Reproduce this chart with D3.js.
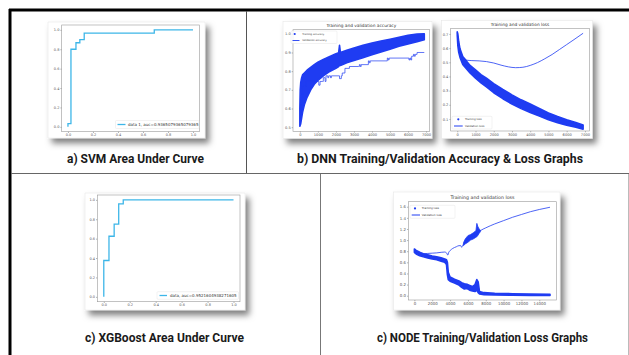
<!DOCTYPE html>
<html>
<head>
<meta charset="utf-8">
<script src="https://cdn.jsdelivr.net/npm/d3@7"></script>
<style>
  html, body { margin: 0; padding: 0; background: #fff; }
  svg { display: block; }
  .tick text { font-family: "DejaVu Sans", sans-serif; fill: #555; }
  .caption { font-family: "Liberation Sans Narrow", Roboto, sans-serif; font-weight: 700; fill: #1a1a1a; }
  .mpl { font-family: "DejaVu Sans", sans-serif; fill: #333; }
</style>
</head>
<body>
<svg id="chart" width="629" height="355"></svg>
<script>
// ---- ROC curves ----
const rocTicks = [0, 0.2, 0.4, 0.6, 0.8, 1.0];

const svmFpr = [0, 0, 0.024, 0.024, 0.064, 0.064, 0.095, 0.095, 0.13, 0.13, 0.69, 0.69, 1.0];
const svmTpr = [0, 0.033, 0.033, 0.8, 0.8, 0.867, 0.867, 0.9, 0.9, 0.967, 0.967, 1.0, 1.0];
const svmLabel = "data 1, auc=0.9365079365079365";

const xgbFpr = [0, 0, 0.04, 0.04, 0.08, 0.08, 0.115, 0.115, 0.15, 0.15, 1.0];
const xgbTpr = [0, 0.375, 0.375, 0.625, 0.625, 0.75, 0.75, 0.958, 0.958, 1.0, 1.0];
const xgbLabel = "data, auc=0.9521604938271605";

// ---- DNN accuracy ----
const dnnXTicks = [0, 1000, 2000, 3000, 4000, 5000, 6000, 7000];
const dnnAccYTicks = [0.5, 0.6, 0.7, 0.8, 0.9, 1.0];
const dnnAccEpoch = [0, 20, 50, 100, 150, 250, 400, 600, 800, 1000, 1300, 1600, 2000, 2150, 2200, 2250, 2600, 3000, 3500, 4000, 4500, 5000, 5500, 6000, 6500, 6900];
const dnnAccLow   = [0.505, 0.51, 0.52, 0.55, 0.58, 0.62, 0.66, 0.7, 0.73, 0.75, 0.775, 0.795, 0.815, 0.825, 0.83, 0.83, 0.845, 0.857, 0.872, 0.888, 0.903, 0.918, 0.933, 0.946, 0.958, 0.968];
const dnnAccHigh  = [0.6, 0.7, 0.74, 0.765, 0.78, 0.79, 0.805, 0.82, 0.835, 0.848, 0.863, 0.876, 0.893, 0.898, 0.938, 0.9, 0.912, 0.924, 0.938, 0.95, 0.961, 0.971, 0.982, 0.992, 0.999, 1.0];
const dnnValAccEpoch = [0, 50, 100, 200, 350, 1050, 1120, 1250, 1300, 1400, 1450, 1550, 1600, 1700, 1750, 2200, 2300, 2350, 2500, 2750, 3250, 3300, 3350, 3400, 3800, 3850, 3900, 4850, 4900, 4950, 6050, 6100, 6150, 6200, 6300, 6350, 6400, 6500, 6900];
const dnnValAcc      = [0.55, 0.62, 0.68, 0.72, 0.745, 0.725, 0.745, 0.745, 0.765, 0.745, 0.775, 0.765, 0.775, 0.765, 0.775, 0.76, 0.775, 0.79, 0.815, 0.825, 0.825, 0.835, 0.825, 0.835, 0.855, 0.845, 0.855, 0.87, 0.86, 0.87, 0.86, 0.87, 0.86, 0.88, 0.89, 0.88, 0.89, 0.9, 0.9];

// ---- DNN loss ----
const dnnLossYTicks = [0.1, 0.2, 0.3, 0.4, 0.5, 0.6, 0.7];
const dnnLossEpoch = [0, 30, 80, 150, 300, 500, 700, 1000, 1300, 1600, 2000, 2500, 3000, 3500, 4000, 4500, 5000, 5500, 6000, 6500, 6900];
const dnnLossLow   = [0.69, 0.62, 0.57, 0.535, 0.485, 0.455, 0.425, 0.388, 0.355, 0.327, 0.285, 0.243, 0.205, 0.173, 0.146, 0.12, 0.095, 0.074, 0.056, 0.042, 0.028];
const dnnLossHigh  = [0.715, 0.7, 0.645, 0.595, 0.54, 0.51, 0.478, 0.446, 0.413, 0.388, 0.35, 0.308, 0.27, 0.235, 0.205, 0.174, 0.143, 0.117, 0.094, 0.075, 0.058];
const dnnValLossEpoch = [0, 50, 100, 200, 330, 500, 800, 1200, 1600, 2000, 2400, 2800, 3200, 3600, 4000, 4400, 4800, 5200, 5600, 6000, 6400, 6900];
const dnnValLoss      = [0.71, 0.66, 0.62, 0.565, 0.53, 0.515, 0.512, 0.51, 0.505, 0.495, 0.48, 0.468, 0.462, 0.465, 0.478, 0.498, 0.525, 0.555, 0.59, 0.625, 0.66, 0.705];

// ---- NODE loss ----
const nodeXTicks = [0, 2000, 4000, 6000, 8000, 10000, 12000, 14000];
const nodeYTicks = [0, 0.2, 0.4, 0.6, 0.8, 1.0, 1.2, 1.4, 1.6];
const nodeEpoch = [0, 200, 600, 1000, 1500, 2000, 2500, 3000, 3400, 3600, 3700, 3800, 4000, 4500, 5000, 5300, 5600, 5900, 6200, 6500, 6800, 7000, 7150, 7300, 7800, 9000, 11000, 13000, 15200];
const nodeLow   = [0.78, 0.75, 0.72, 0.7, 0.68, 0.66, 0.645, 0.62, 0.6, 0.56, 0.38, 0.29, 0.26, 0.23, 0.19, 0.15, 0.12, 0.13, 0.1, 0.085, 0.075, 0.1, 0.055, 0.03, 0.02, 0.012, 0.008, 0.005, 0.005];
const nodeHigh  = [0.84, 0.815, 0.78, 0.755, 0.735, 0.715, 0.7, 0.68, 0.66, 0.645, 0.6, 0.42, 0.335, 0.295, 0.265, 0.235, 0.215, 0.205, 0.185, 0.165, 0.2, 0.29, 0.25, 0.075, 0.055, 0.042, 0.036, 0.031, 0.026];
const nodeValEpoch = [0, 200, 500, 1000, 1500, 2000, 2500, 3000, 3400, 3600, 3750, 3850, 4000, 4300, 4700, 5000, 5200, 5300, 5400, 5600, 6000, 6500, 7000, 7400, 8000, 9000, 10000, 11000, 12000, 13000, 14000, 15200];
const nodeVal      = [0.82, 0.78, 0.75, 0.755, 0.76, 0.765, 0.77, 0.78, 0.785, 0.77, 0.73, 0.78, 0.81, 0.85, 0.88, 0.9, 0.9, 0.87, 0.9, 0.95, 1.02, 1.07, 1.12, 1.17, 1.22, 1.29, 1.35, 1.41, 1.46, 1.51, 1.55, 1.59];
const nodeValNoiseEpoch = [5500, 5700, 6000, 6300, 6600, 6900, 7000, 7100, 7250, 7400];
const nodeValNoiseLow   = [0.9, 0.93, 0.96, 1.0, 1.02, 1.05, 1.06, 1.08, 1.12, 1.15];
const nodeValNoiseHigh  = [0.95, 1.02, 1.08, 1.1, 1.13, 1.17, 1.3, 1.25, 1.2, 1.18];

const captions = [
  "a) SVM Area Under Curve",
  "b) DNN Training/Validation Accuracy & Loss Graphs",
  "c) XGBoost Area Under Curve",
  "c) NODE Training/Validation Loss Graphs"
];

const BLUE = "#1f3cf2";
const ROC_BLUE = "#3db6e8";

const svg = d3.select("#chart");
const defs = svg.append("defs");

// Card shadow
const shadow = defs.append("filter").attr("id", "card-shadow")
  .attr("x", "-20%").attr("y", "-20%").attr("width", "150%").attr("height", "160%");
shadow.append("feDropShadow").attr("dx", 4).attr("dy", 5)
  .attr("stdDeviation", 3).attr("flood-color", "#000").attr("flood-opacity", 0.5);

// Frame lines
svg.append("line").attr("x1", 9).attr("x2", 629).attr("y1", 10).attr("y2", 10)
  .attr("stroke", "#000").attr("stroke-width", 3);
svg.append("line").attr("x1", 10).attr("x2", 10).attr("y1", 9).attr("y2", 355)
  .attr("stroke", "#000").attr("stroke-width", 3);
svg.append("line").attr("x1", 11).attr("x2", 629).attr("y1", 173.5).attr("y2", 173.5)
  .attr("stroke", "#666").attr("stroke-width", 1);
svg.append("line").attr("x1", 246.5).attr("x2", 246.5).attr("y1", 11).attr("y2", 173)
  .attr("stroke", "#555").attr("stroke-width", 1);
svg.append("line").attr("x1", 320.5).attr("x2", 320.5).attr("y1", 174).attr("y2", 355)
  .attr("stroke", "#777").attr("stroke-width", 1);
svg.append("line").attr("x1", 628.5).attr("x2", 628.5).attr("y1", 174).attr("y2", 355)
  .attr("stroke", "#bbb").attr("stroke-width", 1);

let clipId = 0;

function panel(o) {
  const g = svg.append("g");
  const [cx0, cy0, cx1, cy1] = o.card;
  const [px0, py0, px1, py1] = o.plot;

  g.append("rect")
    .attr("x", cx0).attr("y", cy0).attr("width", cx1 - cx0).attr("height", cy1 - cy0)
    .attr("fill", "#fff").attr("stroke", "#e4e4e4").attr("stroke-width", 0.5)
    .attr("filter", "url(#card-shadow)");

  const x = d3.scaleLinear().domain(o.xDomain).range([px0, px1]);
  const y = d3.scaleLinear().domain(o.yDomain).range([py1, py0]);

  const id = "clip" + (clipId++);
  defs.append("clipPath").attr("id", id).append("rect")
    .attr("x", px0).attr("y", py0).attr("width", px1 - px0).attr("height", py1 - py0);
  const plot = g.append("g").attr("clip-path", `url(#${id})`);

  const xAxis = g.append("g").attr("transform", `translate(0,${py1})`)
    .call(d3.axisBottom(x).tickValues(o.xTicks).tickFormat(o.xFormat).tickSize(1.3).tickPadding(1));
  const yAxis = g.append("g").attr("transform", `translate(${px0},0)`)
    .call(d3.axisLeft(y).tickValues(o.yTicks).tickFormat(o.yFormat).tickSize(1.3).tickPadding(1));
  [xAxis, yAxis].forEach(a => {
    a.select(".domain").remove();
    a.selectAll(".tick line").attr("stroke", "#666").attr("stroke-width", 0.5);
    a.selectAll(".tick text").style("font-size", o.tickFont + "px");
  });

  if (o.title) {
    g.append("text").attr("class", "mpl")
      .attr("x", (px0 + px1) / 2).attr("y", o.titleY)
      .attr("text-anchor", "middle").style("font-size", o.titleFont + "px")
      .text(o.title);
  }

  return { g, plot, x, y, frame: () => g.append("rect")
    .attr("x", px0).attr("y", py0).attr("width", px1 - px0).attr("height", py1 - py0)
    .attr("fill", "none").attr("stroke", "#999").attr("stroke-width", 0.6) };
}

function legendBox(g, box) {
  g.append("rect").attr("x", box[0]).attr("y", box[1])
    .attr("width", box[2] - box[0]).attr("height", box[3] - box[1]).attr("rx", 1)
    .attr("fill", "#fff").attr("fill-opacity", 0.8)
    .attr("stroke", "#ddd").attr("stroke-width", 0.4);
}

function legendText(g, xx, yy, size, txt) {
  g.append("text").attr("class", "mpl").attr("x", xx).attr("y", yy)
    .attr("dominant-baseline", "middle").style("font-size", size + "px").text(txt);
}

// ---- ROC panels ----
function rocPanel(card, plot, fpr, tpr, label, leg) {
  const p = panel({
    card, plot, xDomain: [-0.05, 1.05], yDomain: [-0.05, 1.05],
    xTicks: rocTicks, yTicks: rocTicks, xFormat: d3.format(".1f"), yFormat: d3.format(".1f"),
    tickFont: 3.5
  });
  const pts = fpr.map((f, i) => [f, tpr[i]]);
  p.plot.append("path").datum(pts)
    .attr("d", d3.line().x(d => p.x(d[0])).y(d => p.y(d[1])))
    .attr("fill", "none").attr("stroke", ROC_BLUE).attr("stroke-width", 1.3);
  p.frame();
  legendBox(p.g, leg.box);
  p.g.append("line").attr("x1", leg.line[0]).attr("x2", leg.line[1])
    .attr("y1", leg.y).attr("y2", leg.y).attr("stroke", ROC_BLUE).attr("stroke-width", 1.3);
  legendText(p.g, leg.textX, leg.y, 4, label);
}

rocPanel([48, 22, 205, 138], [61.7, 25, 199.3, 131.7], svmFpr, svmTpr, svmLabel,
  { box: [115.5, 120.5, 199, 128.5], line: [117.5, 125.5], y: 124.5, textX: 128 });
rocPanel([85, 193, 245, 310], [97.3, 195, 240, 301.7], xgbFpr, xgbTpr, xgbLabel,
  { box: [157, 291.7, 238.5, 299.3], line: [159.5, 167], y: 295.5, textX: 170 });

// ---- training curves ----
function trainPanel(o) {
  const p = panel(o);
  const band = o.bandE.map((e, i) => ({ e, lo: o.bandLo[i], hi: o.bandHi[i] }));
  const area = d3.area().x(d => p.x(d.e)).y0(d => p.y(d.lo)).y1(d => p.y(d.hi));
  p.plot.append("path").datum(band).attr("d", area)
    .attr("fill", BLUE).attr("stroke", BLUE).attr("stroke-width", 1.6).attr("stroke-linejoin", "round");
  if (o.noiseE) {
    const noise = o.noiseE.map((e, i) => ({ e, lo: o.noiseLo[i], hi: o.noiseHi[i] }));
    p.plot.append("path").datum(noise).attr("d", area)
      .attr("fill", BLUE).attr("stroke", BLUE).attr("stroke-width", 0.8).attr("stroke-linejoin", "round");
  }
  const val = o.valE.map((e, i) => [e, o.val[i]]);
  p.plot.append("path").datum(val)
    .attr("d", d3.line().x(d => p.x(d[0])).y(d => p.y(d[1])).curve(o.valCurve))
    .attr("fill", "none").attr("stroke", BLUE).attr("stroke-width", o.valWidth);
  p.frame();

  const L = o.legend;
  legendBox(p.g, L.box);
  p.g.append("circle").attr("cx", L.dotX).attr("cy", L.y1).attr("r", 1.1).attr("fill", BLUE);
  legendText(p.g, L.textX, L.y1, L.font, o.names[0]);
  p.g.append("line").attr("x1", L.line[0]).attr("x2", L.line[1])
    .attr("y1", L.y2).attr("y2", L.y2).attr("stroke", BLUE).attr("stroke-width", o.valWidth + 0.2);
  legendText(p.g, L.textX, L.y2, L.font, o.names[1]);
}

trainPanel({
  card: [283, 21.5, 432, 138.3], plot: [293, 29.7, 429.7, 131.3],
  xDomain: [-380, 7200], yDomain: [0.478, 1.022],
  xTicks: dnnXTicks, yTicks: dnnAccYTicks, xFormat: d3.format("d"), yFormat: d3.format(".1f"),
  tickFont: 3.6, title: "Training and validation accuracy", titleY: 26.8, titleFont: 4.3,
  bandE: dnnAccEpoch, bandLo: dnnAccLow, bandHi: dnnAccHigh,
  valE: dnnValAccEpoch, val: dnnValAcc, valCurve: d3.curveStepAfter, valWidth: 0.7,
  names: ["Training accuracy", "Validation accuracy"],
  legend: { box: [291, 31, 337, 43.5], dotX: 294.7, textX: 302.3, y1: 34, y2: 40.5, line: [292.5, 299.5], font: 2.5 }
});

trainPanel({
  card: [441.7, 20.7, 592.3, 138.3], plot: [450.7, 28.3, 589.3, 131],
  xDomain: [-360, 7240], yDomain: [0.015, 0.74],
  xTicks: dnnXTicks, yTicks: dnnLossYTicks, xFormat: d3.format("d"), yFormat: d3.format(".1f"),
  tickFont: 3.6, title: "Training and validation loss", titleY: 25.8, titleFont: 4.3,
  bandE: dnnLossEpoch, bandLo: dnnLossLow, bandHi: dnnLossHigh,
  valE: dnnValLossEpoch, val: dnnValLoss, valCurve: d3.curveMonotoneX, valWidth: 0.8,
  names: ["Training loss", "Validation loss"],
  legend: { box: [452, 116.3, 492, 129], dotX: 458.3, textX: 465, y1: 119.3, y2: 126, line: [454, 462.7], font: 2.7 }
});

trainPanel({
  card: [393.3, 192, 560, 310], plot: [408.3, 201.7, 556.7, 300],
  xDomain: [-680, 15950], yDomain: [-0.077, 1.69],
  xTicks: nodeXTicks, yTicks: nodeYTicks, xFormat: d3.format("d"), yFormat: d3.format(".1f"),
  tickFont: 3.9, title: "Training and validation loss", titleY: 199, titleFont: 4.7,
  bandE: nodeEpoch, bandLo: nodeLow, bandHi: nodeHigh,
  noiseE: nodeValNoiseEpoch, noiseLo: nodeValNoiseLow, noiseHi: nodeValNoiseHigh,
  valE: nodeValEpoch, val: nodeVal, valCurve: d3.curveMonotoneX, valWidth: 0.8,
  names: ["Training loss", "Validation loss"],
  legend: { box: [410, 205.3, 455, 218.3], dotX: 415, textX: 421.7, y1: 208.4, y2: 215, line: [411.7, 420], font: 2.8 }
});

// ---- captions ----
const capPos = [
  { x: 67, w: 137, y: 162.5 },
  { x: 297, w: 286, y: 162.5 },
  { x: 85, w: 159, y: 341.5 },
  { x: 377, w: 211, y: 341.5 }
];
captions.forEach((c, i) => {
  svg.append("text").attr("class", "caption")
    .attr("x", capPos[i].x).attr("y", capPos[i].y)
    .attr("textLength", capPos[i].w).attr("lengthAdjust", "spacingAndGlyphs")
    .style("font-size", "12.5px").text(c);
});
</script>
</body>
</html>
